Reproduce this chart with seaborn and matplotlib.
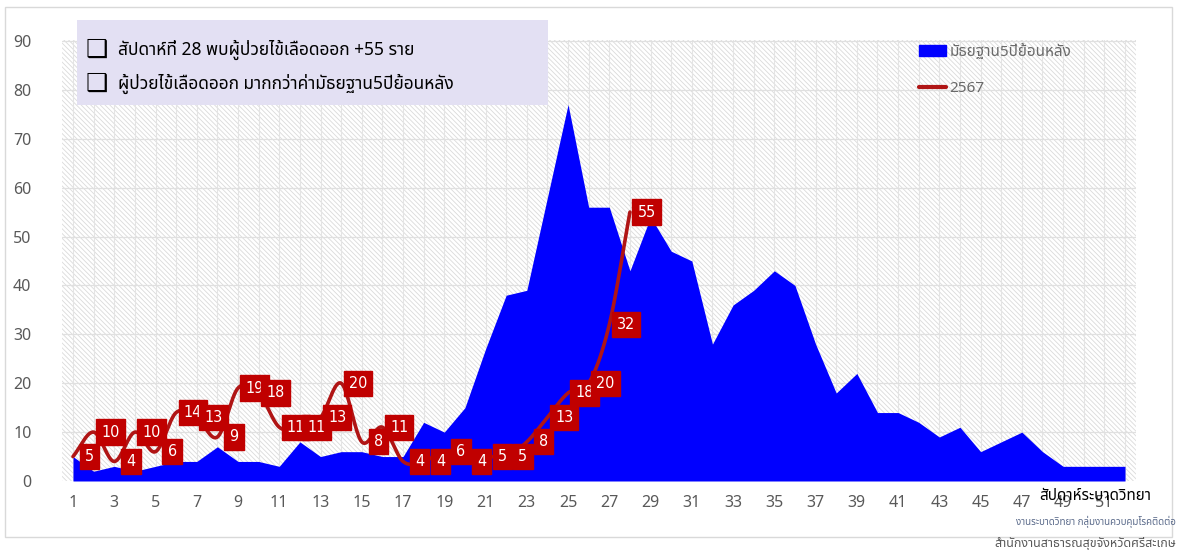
import numpy as np
import seaborn as sns
import matplotlib.pyplot as plt
from matplotlib.patches import Rectangle, Patch
from matplotlib.lines import Line2D

# ข้อมูล
weeks = list(range(1, 53))
median5y = [5, 2, 3, 2, 3, 4, 4, 7, 4, 4, 3, 8, 5, 6, 6, 5, 5, 12, 10, 15,
            27, 38, 39, 58, 77, 56, 56, 43, 54, 47, 45, 28, 36, 39, 43, 40,
            28, 18, 22, 14, 14, 12, 9, 11, 6, 8, 10, 6, 3, 3, 3, 3]
weeks_2567 = list(range(1, 29))
cases_2567 = [5, 10, 4, 10, 6, 14, 13, 9, 19, 18, 11, 11, 13, 20, 8, 11, 4, 4,
              6, 4, 5, 5, 8, 13, 18, 20, 32, 55]
xticks = list(range(1, 52, 2))
yticks = list(range(0, 100, 10))

note_lines = ["สัปดาห์ที่ 28 พบผู้ป่วยไข้เลือดออก +55 ราย",
              "ผู้ป่วยไข้เลือดออก มากกว่าค่ามัธยฐาน5ปีย้อนหลัง"]
legend_labels = ["มัธยฐาน5ปีย้อนหลัง", "2567"]
xlabel = "สัปดาห์ระบาดวิทยา"
credit1 = "งานระบาดวิทยา กลุ่มงานควบคุมโรคติดต่อ"
credit2 = "สำนักงานสาธารณสุขจังหวัดศรีสะเกษ"

BLUE = "#0000ff"
RED_LINE = "#b01515"
RED_BOX = "#c00000"
GRAY = "#595959"

sns.set_style("white")
thai = ['Noto Sans Thai', 'Noto Sans Thai UI', 'Tahoma', 'Leelawadee UI',
        'Loma', 'Garuda', 'Noto Sans', 'DejaVu Sans']
plt.rcParams['font.family'] = thai
plt.rcParams['hatch.linewidth'] = 0.6


def smooth(x, y, n=20):
    # เส้นโค้งแบบ Catmull-Rom ผ่านทุกจุดข้อมูล
    x = np.asarray(x, float)
    y = np.asarray(y, float)
    px = np.concatenate([[2 * x[0] - x[1]], x, [2 * x[-1] - x[-2]]])
    py = np.concatenate([[2 * y[0] - y[1]], y, [2 * y[-1] - y[-2]]])
    xs, ys = [], []
    t = np.linspace(0, 1, n, endpoint=False)
    for i in range(1, len(px) - 2):
        for arr, out in ((px, xs), (py, ys)):
            p0, p1, p2, p3 = arr[i - 1], arr[i], arr[i + 1], arr[i + 2]
            out.extend(0.5 * (2 * p1 + (-p0 + p2) * t
                              + (2 * p0 - 5 * p1 + 4 * p2 - p3) * t ** 2
                              + (-p0 + 3 * p1 - 3 * p2 + p3) * t ** 3))
    xs.append(x[-1])
    ys.append(y[-1])
    return np.array(xs), np.array(ys)


fig = plt.figure(figsize=(11.78, 5.52), dpi=100)
ax = fig.add_axes([62 / 1178, 1 - 481 / 552, (1136 - 62) / 1178, (481 - 40) / 552])

x0 = 1 - 11 / 20.64
x1 = 52 + 11 / 20.64
ax.set_xlim(x0, x1)
ax.set_ylim(0, 90.2)

# พื้นหลังลายเส้นทแยง
ax.add_patch(Rectangle((x0, 0), x1 - x0, 90.2, facecolor="white",
                       edgecolor="#dadada", hatch="\\" * 7, lw=0, zorder=0))
for w in weeks:
    ax.axvline(w, color="#e4e4e4", lw=0.8, zorder=0.5)
for v in yticks[1:]:
    ax.axhline(v, color="#e0e0e0", lw=0.9, zorder=0.5)

# พื้นที่มัธยฐาน
ax.fill_between(weeks, median5y, 0, color=BLUE, lw=0, zorder=2)

# เส้นปี 2567
sx, sy = smooth(weeks_2567, cases_2567)
sns.lineplot(x=sx, y=sy, sort=False, color=RED_LINE, lw=2.6, ax=ax, zorder=3)

for w, c in zip(weeks_2567, cases_2567):
    ax.annotate(str(c), (w, c), xytext=(12, 0), textcoords="offset points",
                ha="center", va="center", color="white", fontsize=11.5,
                family=['DejaVu Sans'], fontstretch="condensed",
                bbox=dict(boxstyle="square,pad=0.32", fc=RED_BOX, ec=RED_BOX),
                zorder=4)

ax.set_xticks(xticks)
ax.set_yticks(yticks)
ax.tick_params(axis="both", length=0, colors=GRAY, labelsize=11.5, pad=10)
ax.tick_params(axis="y", pad=22)
for s in ax.spines.values():
    s.set_visible(False)

# legend
handles = [Patch(facecolor=BLUE, edgecolor=BLUE),
           Line2D([0], [0], color=RED_LINE, lw=3)]
fig.legend(handles, legend_labels, loc="upper left",
           bbox_to_anchor=(905 / 1178, 1 - 30 / 552), frameon=False,
           fontsize=11, labelcolor="#6a6a6a", labelspacing=1.4,
           handlelength=1.8, handletextpad=0.2)

# กล่องข้อความ
fig.patches.append(Rectangle((77 / 1178, 1 - 105 / 552), (548 - 77) / 1178,
                             85 / 552, transform=fig.transFigure,
                             facecolor="#e3e0f3", edgecolor="none", zorder=5))
for i, t in enumerate(note_lines):
    yy = 1 - (50 + i * 34) / 552
    fig.text(86 / 1178, yy, "❑", fontsize=18, color="black", va="center",
             fontweight="bold", family=['DejaVu Sans'], zorder=6)
    fig.text(118 / 1178, yy, t, fontsize=12.5, color="black", va="center",
             zorder=6)

fig.text(1095 / 1178, 1 - 497 / 552, xlabel, ha="center", va="center",
         fontsize=11, color="black", fontweight="bold")
fig.text(1176 / 1178, 1 - 522 / 552, credit1, ha="right", va="center",
         fontsize=7, color="#5a6a8a")
fig.text(1176 / 1178, 1 - 543 / 552, credit2, ha="right", va="center",
         fontsize=9, color=GRAY)

# กรอบนอก
fig.patches.append(Rectangle((5 / 1178, 1 - 537 / 552), 1167 / 1178, 530 / 552,
                             transform=fig.transFigure, facecolor="none",
                             edgecolor="#d9d9d9", lw=1, zorder=0))

plt.savefig("out.png", dpi=100)
